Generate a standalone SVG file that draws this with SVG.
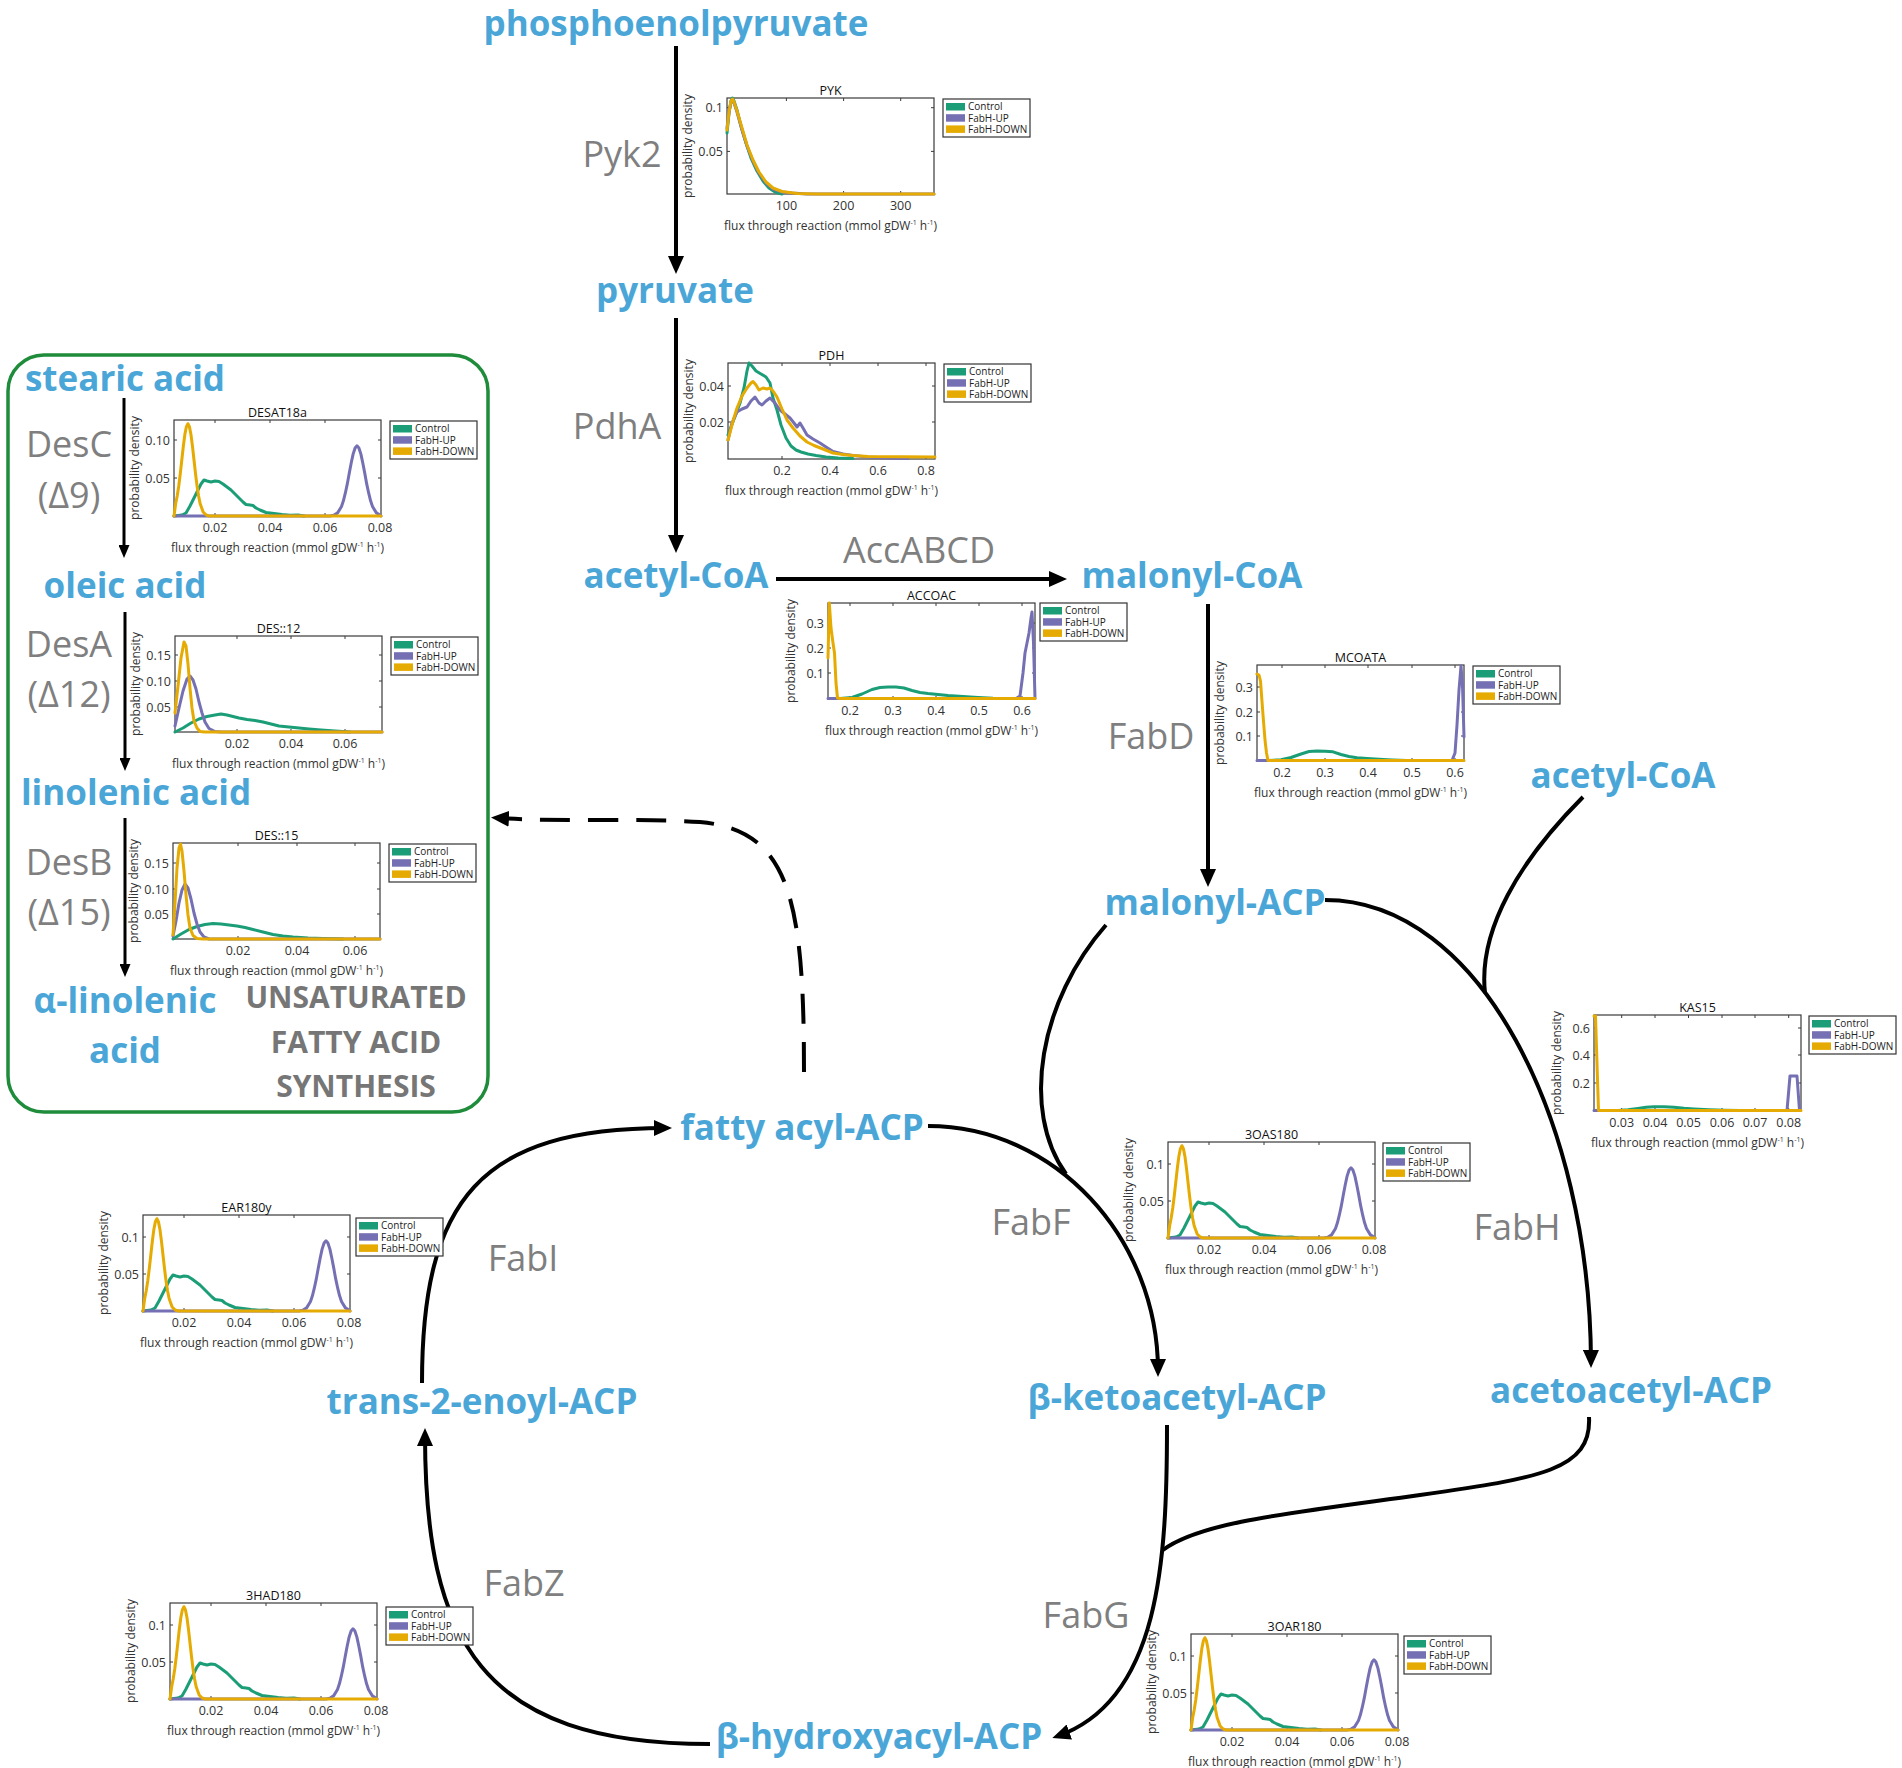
<svg xmlns="http://www.w3.org/2000/svg" width="1902" height="1768" viewBox="0 0 1902 1768">
<style>
text{font-family:"Open Sans","Liberation Sans",sans-serif}
.nd{font-weight:700;font-size:35px;fill:#4BA6D8;text-anchor:middle}
.ez{font-size:36px;fill:#7F7F7F;text-anchor:middle}
.us{font-weight:700;font-size:30px;fill:#767676;text-anchor:middle}
.ln{fill:none;stroke:#000;stroke-width:4}
.lt{fill:none;stroke:#000;stroke-width:3}
.ax{fill:#fff;stroke:#3a3a3a;stroke-width:1.2}
.tk{fill:none;stroke:#3a3a3a;stroke-width:1}
.pt{font-size:12.5px;fill:#111;text-anchor:middle}
.yt{font-size:12.5px;fill:#333;text-anchor:end}
.xt{font-size:12.5px;fill:#333;text-anchor:middle}
.xl{font-size:12px;fill:#333;text-anchor:middle}
.yl{font-size:12px;fill:#333;text-anchor:middle}
.lg{font-size:10px;fill:#222}
.sp{font-size:7px}
.cv{fill:none;stroke-width:3;stroke-linejoin:round;stroke-linecap:round}
.g{stroke:#1B9E77}.p{stroke:#7570B3}.y{stroke:#E6AB02}
</style>
<defs>
<marker id="ah" markerUnits="userSpaceOnUse" viewBox="0 0 18 16" markerWidth="18" markerHeight="16" refX="12" refY="8" orient="auto"><path d="M0,0L18,8L0,16z" fill="#000"/></marker>
<marker id="ahs" markerUnits="userSpaceOnUse" viewBox="0 0 13 11" markerWidth="13" markerHeight="11" refX="8" refY="5.5" orient="auto"><path d="M0,0L13,5.5L0,11z" fill="#000"/></marker>
<g id="lgb"><rect width="87" height="38" fill="#fff" stroke="#333" stroke-width="1.2"/><rect x="3" y="4" width="19" height="7.5" fill="#1B9E77"/><rect x="3" y="15.2" width="19" height="7.5" fill="#7570B3"/><rect x="3" y="26.4" width="19" height="7.5" fill="#E6AB02"/></g>
<polyline id="g180" class="cv" points="0,96 8,95 12,93 16,86 20,78 24,70 27,64 30,60 33,61 37,62 41,61 45,61.5 49,64 53,67 57,70 61,74 65,78 69,82 72,84.5 76,85 79,85.5 82,88 86,90 92,92.5 100,93.5 108,94.5 116,95.3 124,95 130,96"/>
<polyline id="p180" class="cv" points="0,96 155.8,96 159.7,95.3 163.6,92.9 167.5,86.5 169.4,80.8 171.3,73.2 173.3,63.9 175.2,53.4 177.2,43 179.1,34.1 181.1,28 183,25.8 184.9,28 186.9,34.1 188.8,43 190.8,53.4 192.7,63.9 194.7,73.2 196.6,80.8 198.5,86.5 202.4,92.9 206.3,95.3 207,96"/>
<polyline id="y180" class="cv" points="0,96 1.7,83.5 3.2,76 4.75,66 6.3,53.5 7.8,40 9.3,26.5 10.85,14.5 12.4,6.6 13.9,3.7 15.4,6.6 16.95,14.5 18.5,26.5 20,40 21.5,53.5 23.05,66 24.6,76 26.1,83.5 29.15,92 32.2,95 35.25,96 207,96"/>
</defs>
<rect width="1902" height="1768" fill="#fff"/>

<rect id="ufa-box" x="8" y="355" width="480" height="757" rx="36" fill="none" stroke="#1E8C3A" stroke-width="3.5"/>

<g id="connectors">
<path class="ln" d="M676,46V268" marker-end="url(#ah)"/>
<path class="ln" d="M676,318V547" marker-end="url(#ah)"/>
<path class="ln" d="M776,579H1061" marker-end="url(#ah)"/>
<path class="ln" d="M1208,604V881" marker-end="url(#ah)"/>
<path class="lt" d="M124,398V553" marker-end="url(#ahs)"/>
<path class="lt" d="M125,612V766" marker-end="url(#ahs)"/>
<path class="lt" d="M125,818V972" marker-end="url(#ahs)"/>
<path class="ln" d="M804,1072C804,900 790,830 700,822C640,818 560,822 497,818" stroke-dasharray="30 18" marker-end="url(#ah)"/>
<path class="ln" d="M928,1126C1055,1126 1158,1238 1158,1371" marker-end="url(#ah)"/>
<path class="ln" d="M1106,925C1040,1000 1020,1110 1066,1174"/>
<path class="ln" d="M1325,900C1480,900 1590,1120 1591,1362" marker-end="url(#ah)"/>
<path class="ln" d="M1583,797C1520,860 1478,930 1485,993"/>
<path class="ln" d="M1167,1425C1167,1560 1160,1700 1058,1736" marker-end="url(#ah)"/>
<path class="ln" d="M1589,1417C1592,1470 1540,1478 1420,1495C1290,1513 1200,1522 1163,1550"/>
<path class="ln" d="M710,1744C480,1744 425,1640 425,1434" marker-end="url(#ah)"/>
<path class="ln" d="M422,1383C422,1200 480,1128 666,1128" marker-end="url(#ah)"/>
</g>

<g id="plot-pyk" transform="translate(727,98)">
<rect class="ax" width="207" height="96"/>
<path class="tk" d="M59.4,96v-3M116.6,96v-3M173.7,96v-3M59.4,0v3M116.6,0v3M173.7,0v3M0,9.7h3M0,53.4h3M207,9.7h-3M207,53.4h-3"/>
<polyline class="cv g" points="0,35 2,15 4,3 5.5,0 7,3 10,12 14,28 19,45 24,60 30,73 36,83 42,90 48,94 55,96"/>
<polyline class="cv p" points="0,30 2,14 4,4 5.5,2 7,5 10,14 15,32 20,48 26,63 32,75 39,85 46,91 55,94 65,95 80,96 207,96"/>
<polyline class="cv y" points="0,32 2,14 4,3 5.5,1 7,4 10,13 15,30 20,47 26,62 32,74 39,84 46,90 55,93.5 70,95.5 90,96 207,96"/>
<text class="pt" x="103.5" y="-3">PYK</text>
<text class="yt" x="-4" y="14">0.1</text><text class="yt" x="-4" y="58">0.05</text>
<text class="xt" x="59.4" y="112">100</text><text class="xt" x="116.6" y="112">200</text><text class="xt" x="173.7" y="112">300</text>
<text class="xl" x="103.5" y="132">flux through reaction (mmol gDW<tspan class="sp" dy="-5">-1</tspan><tspan dy="5"> h</tspan><tspan class="sp" dy="-5">-1</tspan><tspan dy="5">)</tspan></text>
<text class="yl" transform="translate(-35,48) rotate(-90)">probability density</text>
<use href="#lgb" x="216" y="1"/>
<text class="lg" x="241" y="12.3">Control</text><text class="lg" x="241" y="23.5">FabH-UP</text><text class="lg" x="241" y="34.7">FabH-DOWN</text>
</g>

<g id="plot-pdh" transform="translate(728,363)">
<rect class="ax" width="207" height="96"/>
<path class="tk" d="M54,96v-3M102,96v-3M150,96v-3M198,96v-3M54,0v3M102,0v3M150,0v3M198,0v3M0,23h3M0,59h3M207,23h-3M207,59h-3"/>
<polyline class="cv g" points="0,72 6,56 12,40 16,25 19,8 21,0 24,3 28,8 33,11 38,14 42,20 45,35 49,47 53,62 58,75 63,83 68,87 73,89 80,91 88,92.5 98,94 110,95 125,95.5"/>
<polyline class="cv p" points="0,77 4,60 9,49 14,46 19,44 23,38 27,34 31,40 34,42 38,38 42,35 47,40 52,47 57,51 62,55 66,60 69,64 72,60 75,65 79,72 85,76 92,80 98,84 105,88.5 115,91 125,92.5 140,94 160,95 180,95.5"/>
<polyline class="cv y" points="0,77 5,58 9,45 14,33 19,25 23,20 25,18.5 28,22 31,27 35,25 39,26 42,25 45,28 49,34 54,46 59,57 65,65 72,73 79,79 86,82.5 95,86 105,90 115,91.5 125,92.5 140,93.5 207,94"/>
<text class="pt" x="103.5" y="-3">PDH</text>
<text class="yt" x="-4" y="27.5">0.04</text><text class="yt" x="-4" y="63.5">0.02</text>
<text class="xt" x="54" y="112">0.2</text><text class="xt" x="102" y="112">0.4</text><text class="xt" x="150" y="112">0.6</text><text class="xt" x="198" y="112">0.8</text>
<text class="xl" x="103.5" y="132">flux through reaction (mmol gDW<tspan class="sp" dy="-5">-1</tspan><tspan dy="5"> h</tspan><tspan class="sp" dy="-5">-1</tspan><tspan dy="5">)</tspan></text>
<text class="yl" transform="translate(-35,48) rotate(-90)">probability density</text>
<use href="#lgb" x="216" y="1"/>
<text class="lg" x="241" y="12.3">Control</text><text class="lg" x="241" y="23.5">FabH-UP</text><text class="lg" x="241" y="34.7">FabH-DOWN</text>
</g>

<g id="plot-desat18a" transform="translate(174,420)">
<rect class="ax" width="207" height="96"/>
<path class="tk" d="M41,96v-3M96,96v-3M151,96v-3M41,0v3M96,0v3M151,0v3M0,20h3M0,58h3M207,20h-3M207,58h-3"/>
<use href="#g180" class="g"/><use href="#p180" class="p"/><use href="#y180" class="y"/>
<text class="pt" x="103.5" y="-3">DESAT18a</text>
<text class="yt" x="-4" y="24.5">0.10</text><text class="yt" x="-4" y="62.5">0.05</text>
<text class="xt" x="41" y="112">0.02</text><text class="xt" x="96" y="112">0.04</text><text class="xt" x="151" y="112">0.06</text><text class="xt" x="206" y="112">0.08</text>
<text class="xl" x="103.5" y="132">flux through reaction (mmol gDW<tspan class="sp" dy="-5">-1</tspan><tspan dy="5"> h</tspan><tspan class="sp" dy="-5">-1</tspan><tspan dy="5">)</tspan></text>
<text class="yl" transform="translate(-35,48) rotate(-90)">probability density</text>
<use href="#lgb" x="216" y="1"/>
<text class="lg" x="241" y="12.3">Control</text><text class="lg" x="241" y="23.5">FabH-UP</text><text class="lg" x="241" y="34.7">FabH-DOWN</text>
</g>

<g id="plot-des12" transform="translate(175,636)">
<rect class="ax" width="207" height="96"/>
<path class="tk" d="M62,96v-3M116,96v-3M170,96v-3M62,0v3M116,0v3M170,0v3M0,19h3M0,45h3M0,71h3M207,19h-3M207,45h-3M207,71h-3"/>
<polyline class="cv g" points="0,96 8,92 16,87 24,83 32,80.5 40,79 46,78 52,79 58,80.5 64,82 72,83.5 80,84.5 88,86 96,88 104,90 114,91 124,92 134,93 146,94 160,95 175,96"/>
<polyline class="cv p" points="0,90 4,72 8,55 12,43 15,40 18,44 21,53 24,66 27,77 30,86 34,92.5 40,95.5 46,96 207,96"/>
<polyline class="cv y" points="0,77 3,50 6,22 9,6 11,10 13,28 15,52 17,72 19,85 22,92 25,95.5 30,96 207,96"/>
<text class="pt" x="103.5" y="-3">DES::12</text>
<text class="yt" x="-4" y="23.5">0.15</text><text class="yt" x="-4" y="49.5">0.10</text><text class="yt" x="-4" y="75.5">0.05</text>
<text class="xt" x="62" y="112">0.02</text><text class="xt" x="116" y="112">0.04</text><text class="xt" x="170" y="112">0.06</text>
<text class="xl" x="103.5" y="132">flux through reaction (mmol gDW<tspan class="sp" dy="-5">-1</tspan><tspan dy="5"> h</tspan><tspan class="sp" dy="-5">-1</tspan><tspan dy="5">)</tspan></text>
<text class="yl" transform="translate(-35,48) rotate(-90)">probability density</text>
<use href="#lgb" x="216" y="1"/>
<text class="lg" x="241" y="12.3">Control</text><text class="lg" x="241" y="23.5">FabH-UP</text><text class="lg" x="241" y="34.7">FabH-DOWN</text>
</g>

<g id="plot-des15" transform="translate(173,843)">
<rect class="ax" width="207" height="96"/>
<path class="tk" d="M65,96v-3M124,96v-3M182,96v-3M65,0v3M124,0v3M182,0v3M0,20h3M0,46h3M0,71h3M207,20h-3M207,46h-3M207,71h-3"/>
<polyline class="cv g" points="0,96 8,91 16,86.5 24,83.5 32,81.5 40,80.5 48,81 56,82 64,83 72,84.5 80,86.5 90,89 100,91.5 110,93 120,94 135,95 150,95.5 170,96"/>
<polyline class="cv p" points="0,93 3,78 6,60 9,47 12,41 15,45 18,56 21,70 24,81 27,89 31,94 36,96 207,96"/>
<polyline class="cv y" points="0,92 2,60 4,25 6,5 7.5,1 9,8 11,28 13,52 15,72 17,85 20,92.5 24,95.5 30,96 207,96"/>
<text class="pt" x="103.5" y="-3">DES::15</text>
<text class="yt" x="-4" y="24.5">0.15</text><text class="yt" x="-4" y="50.5">0.10</text><text class="yt" x="-4" y="75.5">0.05</text>
<text class="xt" x="65" y="112">0.02</text><text class="xt" x="124" y="112">0.04</text><text class="xt" x="182" y="112">0.06</text>
<text class="xl" x="103.5" y="132">flux through reaction (mmol gDW<tspan class="sp" dy="-5">-1</tspan><tspan dy="5"> h</tspan><tspan class="sp" dy="-5">-1</tspan><tspan dy="5">)</tspan></text>
<text class="yl" transform="translate(-35,48) rotate(-90)">probability density</text>
<use href="#lgb" x="216" y="1"/>
<text class="lg" x="241" y="12.3">Control</text><text class="lg" x="241" y="23.5">FabH-UP</text><text class="lg" x="241" y="34.7">FabH-DOWN</text>
</g>

<g id="plot-accoac" transform="translate(828,603)">
<rect class="ax" width="207" height="96"/>
<path class="tk" d="M22,96v-3M65,96v-3M108,96v-3M151,96v-3M194,96v-3M22,0v3M65,0v3M108,0v3M151,0v3M194,0v3M0,20h3M0,45h3M0,70h3M207,20h-3M207,45h-3M207,70h-3"/>
<polyline class="cv g" points="12,95.5 24,94.5 34,91 44,86.5 52,84.5 60,84 68,84 76,85 84,87.5 92,89.5 100,90.5 110,91.5 120,92.5 135,93.5 150,94.5 165,95.2 180,95.5"/>
<polyline class="cv p" points="0,95.5 188,95.5 192,93 195,70 197,50 199,40 201,30 203,15 204,9 205.5,40 207,95.5"/>
<polyline class="cv y" points="0,55 1.3,0 3,25 5,40 6.5,50 8,80 9.5,95 12,95.5 207,95.5"/>
<text class="pt" x="103.5" y="-3">ACCOAC</text>
<text class="yt" x="-4" y="24.5">0.3</text><text class="yt" x="-4" y="49.5">0.2</text><text class="yt" x="-4" y="74.5">0.1</text>
<text class="xt" x="22" y="112">0.2</text><text class="xt" x="65" y="112">0.3</text><text class="xt" x="108" y="112">0.4</text><text class="xt" x="151" y="112">0.5</text><text class="xt" x="194" y="112">0.6</text>
<text class="xl" x="103.5" y="132">flux through reaction (mmol gDW<tspan class="sp" dy="-5">-1</tspan><tspan dy="5"> h</tspan><tspan class="sp" dy="-5">-1</tspan><tspan dy="5">)</tspan></text>
<text class="yl" transform="translate(-33,48) rotate(-90)">probability density</text>
<use href="#lgb" x="212" y="0"/>
<text class="lg" x="237" y="11.3">Control</text><text class="lg" x="237" y="22.5">FabH-UP</text><text class="lg" x="237" y="33.7">FabH-DOWN</text>
</g>

<g id="plot-mcoata" transform="translate(1257,665)">
<rect class="ax" width="207" height="96"/>
<path class="tk" d="M25,96v-3M68,96v-3M111,96v-3M155,96v-3M198,96v-3M25,0v3M68,0v3M111,0v3M155,0v3M198,0v3M0,22h3M0,47h3M0,71h3M207,22h-3M207,47h-3M207,71h-3"/>
<polyline class="cv g" points="12,95.5 24,94.8 34,92.5 44,89 52,86.5 60,86 68,86.2 76,86.8 84,89.5 92,91.5 100,92.8 110,93.5 122,94.3 135,95 150,95.5"/>
<polyline class="cv p" points="0,95.5 195,95.5 198,88 200,60 202,25 204,1 205.5,20 207,72"/>
<polyline class="cv y" points="0,9 2,10 3.5,16 6,50 8,75 9.5,88 11,95.5 207,95.5"/>
<text class="pt" x="103.5" y="-3">MCOATA</text>
<text class="yt" x="-4" y="26.5">0.3</text><text class="yt" x="-4" y="51.5">0.2</text><text class="yt" x="-4" y="75.5">0.1</text>
<text class="xt" x="25" y="112">0.2</text><text class="xt" x="68" y="112">0.3</text><text class="xt" x="111" y="112">0.4</text><text class="xt" x="155" y="112">0.5</text><text class="xt" x="198" y="112">0.6</text>
<text class="xl" x="103.5" y="132">flux through reaction (mmol gDW<tspan class="sp" dy="-5">-1</tspan><tspan dy="5"> h</tspan><tspan class="sp" dy="-5">-1</tspan><tspan dy="5">)</tspan></text>
<text class="yl" transform="translate(-33,48) rotate(-90)">probability density</text>
<use href="#lgb" x="216" y="1"/>
<text class="lg" x="241" y="12.3">Control</text><text class="lg" x="241" y="23.5">FabH-UP</text><text class="lg" x="241" y="34.7">FabH-DOWN</text>
</g>

<g id="plot-kas15" transform="translate(1594,1015)">
<rect class="ax" width="207" height="96"/>
<path class="tk" d="M27.7,96v-3M61,96v-3M94.5,96v-3M128,96v-3M161,96v-3M194.7,96v-3M27.7,0v3M61,0v3M94.5,0v3M128,0v3M161,0v3M194.7,0v3M0,13h3M0,40h3M0,68h3M207,13h-3M207,40h-3M207,68h-3"/>
<polyline class="cv g" points="24,95.5 34,94.8 44,93.5 52,92.3 60,91.8 70,91.8 80,92.3 90,93.3 100,94 115,94.8 130,95.3 146,95.5"/>
<polyline class="cv p" points="0,95.5 193,95.5 196,61 203,61 205.5,95.5"/>
<polyline class="cv y" points="0,1 1.5,1 4.5,95.5 207,95.5"/>
<text class="pt" x="103.5" y="-3">KAS15</text>
<text class="yt" x="-4" y="17.5">0.6</text><text class="yt" x="-4" y="44.5">0.4</text><text class="yt" x="-4" y="72.5">0.2</text>
<text class="xt" x="27.7" y="112">0.03</text><text class="xt" x="61" y="112">0.04</text><text class="xt" x="94.5" y="112">0.05</text><text class="xt" x="128" y="112">0.06</text><text class="xt" x="161" y="112">0.07</text><text class="xt" x="194.7" y="112">0.08</text>
<text class="xl" x="103.5" y="132">flux through reaction (mmol gDW<tspan class="sp" dy="-5">-1</tspan><tspan dy="5"> h</tspan><tspan class="sp" dy="-5">-1</tspan><tspan dy="5">)</tspan></text>
<text class="yl" transform="translate(-33,48) rotate(-90)">probability density</text>
<use href="#lgb" x="215" y="1"/>
<text class="lg" x="240" y="12.3">Control</text><text class="lg" x="240" y="23.5">FabH-UP</text><text class="lg" x="240" y="34.7">FabH-DOWN</text>
</g>

<g id="plot-3oas180" transform="translate(1168,1142)">
<rect class="ax" width="207" height="96"/>
<path class="tk" d="M41,96v-3M96,96v-3M151,96v-3M41,0v3M96,0v3M151,0v3M0,22h3M0,59h3M207,22h-3M207,59h-3"/>
<use href="#g180" class="g"/><use href="#p180" class="p"/><use href="#y180" class="y"/>
<text class="pt" x="103.5" y="-3">3OAS180</text>
<text class="yt" x="-4" y="26.5">0.1</text><text class="yt" x="-4" y="63.5">0.05</text>
<text class="xt" x="41" y="112">0.02</text><text class="xt" x="96" y="112">0.04</text><text class="xt" x="151" y="112">0.06</text><text class="xt" x="206" y="112">0.08</text>
<text class="xl" x="103.5" y="132">flux through reaction (mmol gDW<tspan class="sp" dy="-5">-1</tspan><tspan dy="5"> h</tspan><tspan class="sp" dy="-5">-1</tspan><tspan dy="5">)</tspan></text>
<text class="yl" transform="translate(-35,48) rotate(-90)">probability density</text>
<use href="#lgb" x="215" y="1"/>
<text class="lg" x="240" y="12.3">Control</text><text class="lg" x="240" y="23.5">FabH-UP</text><text class="lg" x="240" y="34.7">FabH-DOWN</text>
</g>

<g id="plot-ear180y" transform="translate(143,1215)">
<rect class="ax" width="207" height="96"/>
<path class="tk" d="M41,96v-3M96,96v-3M151,96v-3M41,0v3M96,0v3M151,0v3M0,22h3M0,59h3M207,22h-3M207,59h-3"/>
<use href="#g180" class="g"/><use href="#p180" class="p"/><use href="#y180" class="y"/>
<text class="pt" x="103.5" y="-3">EAR180y</text>
<text class="yt" x="-4" y="26.5">0.1</text><text class="yt" x="-4" y="63.5">0.05</text>
<text class="xt" x="41" y="112">0.02</text><text class="xt" x="96" y="112">0.04</text><text class="xt" x="151" y="112">0.06</text><text class="xt" x="206" y="112">0.08</text>
<text class="xl" x="103.5" y="132">flux through reaction (mmol gDW<tspan class="sp" dy="-5">-1</tspan><tspan dy="5"> h</tspan><tspan class="sp" dy="-5">-1</tspan><tspan dy="5">)</tspan></text>
<text class="yl" transform="translate(-35,48) rotate(-90)">probability density</text>
<use href="#lgb" x="213" y="3"/>
<text class="lg" x="238" y="14.3">Control</text><text class="lg" x="238" y="25.5">FabH-UP</text><text class="lg" x="238" y="36.7">FabH-DOWN</text>
</g>

<g id="plot-3had180" transform="translate(170,1603)">
<rect class="ax" width="207" height="96"/>
<path class="tk" d="M41,96v-3M96,96v-3M151,96v-3M41,0v3M96,0v3M151,0v3M0,22h3M0,59h3M207,22h-3M207,59h-3"/>
<use href="#g180" class="g"/><use href="#p180" class="p"/><use href="#y180" class="y"/>
<text class="pt" x="103.5" y="-3">3HAD180</text>
<text class="yt" x="-4" y="26.5">0.1</text><text class="yt" x="-4" y="63.5">0.05</text>
<text class="xt" x="41" y="112">0.02</text><text class="xt" x="96" y="112">0.04</text><text class="xt" x="151" y="112">0.06</text><text class="xt" x="206" y="112">0.08</text>
<text class="xl" x="103.5" y="132">flux through reaction (mmol gDW<tspan class="sp" dy="-5">-1</tspan><tspan dy="5"> h</tspan><tspan class="sp" dy="-5">-1</tspan><tspan dy="5">)</tspan></text>
<text class="yl" transform="translate(-35,48) rotate(-90)">probability density</text>
<use href="#lgb" x="216" y="4"/>
<text class="lg" x="241" y="15.3">Control</text><text class="lg" x="241" y="26.5">FabH-UP</text><text class="lg" x="241" y="37.7">FabH-DOWN</text>
</g>

<g id="plot-3oar180" transform="translate(1191,1634)">
<rect class="ax" width="207" height="96"/>
<path class="tk" d="M41,96v-3M96,96v-3M151,96v-3M41,0v3M96,0v3M151,0v3M0,22h3M0,59h3M207,22h-3M207,59h-3"/>
<use href="#g180" class="g"/><use href="#p180" class="p"/><use href="#y180" class="y"/>
<text class="pt" x="103.5" y="-3">3OAR180</text>
<text class="yt" x="-4" y="26.5">0.1</text><text class="yt" x="-4" y="63.5">0.05</text>
<text class="xt" x="41" y="112">0.02</text><text class="xt" x="96" y="112">0.04</text><text class="xt" x="151" y="112">0.06</text><text class="xt" x="206" y="112">0.08</text>
<text class="xl" x="103.5" y="132">flux through reaction (mmol gDW<tspan class="sp" dy="-5">-1</tspan><tspan dy="5"> h</tspan><tspan class="sp" dy="-5">-1</tspan><tspan dy="5">)</tspan></text>
<text class="yl" transform="translate(-35,48) rotate(-90)">probability density</text>
<use href="#lgb" x="213" y="2"/>
<text class="lg" x="238" y="13.3">Control</text><text class="lg" x="238" y="24.5">FabH-UP</text><text class="lg" x="238" y="35.7">FabH-DOWN</text>
</g>

<g id="enzymes">
<text class="ez" x="622" y="167">Pyk2</text>
<text class="ez" x="617" y="439">PdhA</text>
<text class="ez" x="919" y="563">AccABCD</text>
<text class="ez" x="1151" y="749">FabD</text>
<text class="ez" x="1031" y="1235">FabF</text>
<text class="ez" x="1517" y="1240">FabH</text>
<text class="ez" x="523" y="1271">FabI</text>
<text class="ez" x="524" y="1596">FabZ</text>
<text class="ez" x="1086" y="1628">FabG</text>
<text class="ez" x="69" y="457">DesC</text>
<text class="ez" x="69" y="508">(Δ9)</text>
<text class="ez" x="69" y="657">DesA</text>
<text class="ez" x="69" y="707">(Δ12)</text>
<text class="ez" x="69" y="875">DesB</text>
<text class="ez" x="69" y="925">(Δ15)</text>
</g>

<g id="ufa-title">
<text class="us" x="356" y="1008">UNSATURATED</text>
<text class="us" x="356" y="1053">FATTY ACID</text>
<text class="us" x="356" y="1097">SYNTHESIS</text>
</g>

<g id="node-pep"><text class="nd" x="676" y="36">phosphoenolpyruvate</text></g>
<g id="node-pyruvate"><text class="nd" x="675" y="303">pyruvate</text></g>
<g id="node-acetylcoa1"><text class="nd" x="676" y="588">acetyl-CoA</text></g>
<g id="node-malonylcoa"><text class="nd" x="1192" y="588">malonyl-CoA</text></g>
<g id="node-acetylcoa2"><text class="nd" x="1623" y="788">acetyl-CoA</text></g>
<g id="node-malonylacp"><text class="nd" x="1215" y="915">malonyl-ACP</text></g>
<g id="node-fattyacylacp"><text class="nd" x="802" y="1140">fatty acyl-ACP</text></g>
<g id="node-trans2enoylacp"><text class="nd" x="482" y="1414">trans-2-enoyl-ACP</text></g>
<g id="node-ketoacetylacp"><text class="nd" x="1177" y="1410">β-ketoacetyl-ACP</text></g>
<g id="node-acetoacetylacp"><text class="nd" x="1631" y="1403">acetoacetyl-ACP</text></g>
<g id="node-hydroxyacylacp"><text class="nd" x="879" y="1749">β-hydroxyacyl-ACP</text></g>
<g id="node-stearic"><text class="nd" x="125" y="391">stearic acid</text></g>
<g id="node-oleic"><text class="nd" x="125" y="598">oleic acid</text></g>
<g id="node-linolenic"><text class="nd" x="136" y="805">linolenic acid</text></g>
<g id="node-alphalinolenic"><text class="nd" x="125" y="1013">α-linolenic</text><text class="nd" x="125" y="1063">acid</text></g>
</svg>
